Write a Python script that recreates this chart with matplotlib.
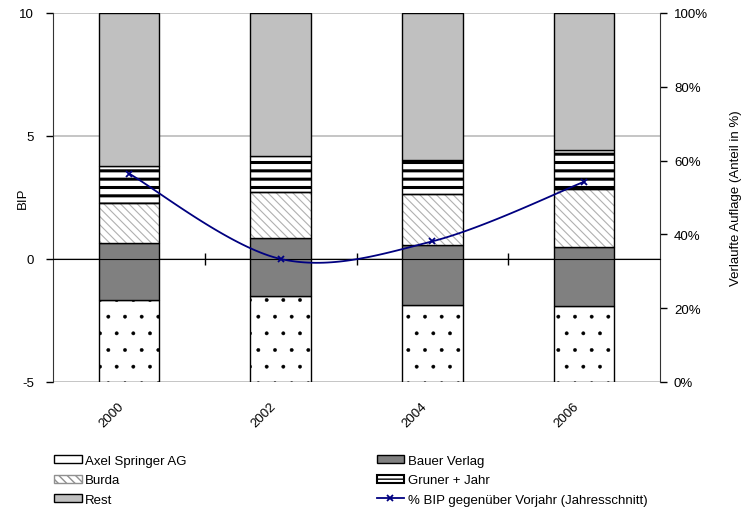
import numpy as np
import matplotlib.pyplot as plt
import matplotlib.transforms as mtransforms
from matplotlib.patches import Patch
from matplotlib.lines import Line2D
from matplotlib.ticker import PercentFormatter, FixedLocator

plt.rcParams['font.family'] = ['Liberation Sans', 'DejaVu Sans']
plt.rcParams['font.size'] = 9.5
plt.rcParams['axes.unicode_minus'] = False

# Daten
years = ['2000', '2002', '2004', '2006']
bip = [3.47, 0.0, 0.72, 3.14]             # % BIP gegenüber Vorjahr
axel_springer = [22.1, 23.3, 20.9, 20.7]  # Anteil in %
bauer_verlag = [15.5, 15.7, 16.2, 16.0]
burda = [10.8, 12.4, 13.8, 15.5]
gruner_jahr = [10.2, 9.8, 9.3, 10.6]
rest = [41.4, 38.8, 39.8, 37.2]

bip_ticks = [-5, 0, 5, 10]
navy = '#000080'


def set_hatch_lw(artists, lw):
    for a in artists:
        if hasattr(a, 'set_hatch_linewidth'):
            a.set_hatch_linewidth(lw)


def excel_smooth(xs, ys, n=40):
    # Bezier-Glättung wie in Excel (Catmull-Rom, Endpunkte doppelt)
    pts = np.column_stack([xs, ys]).astype(float)
    ext = np.vstack([pts[0], pts, pts[-1]])
    out = []
    t = np.linspace(0, 1, n)[:, None]
    for i in range(1, len(ext) - 2):
        p0, p1, p2, p3 = ext[i - 1], ext[i], ext[i + 1], ext[i + 2]
        c1 = p1 + (p2 - p0) / 6
        c2 = p2 - (p3 - p1) / 6
        seg = ((1 - t) ** 3) * p1 + 3 * ((1 - t) ** 2) * t * c1 + 3 * (1 - t) * t ** 2 * c2 + t ** 3 * p2
        out.append(seg if i == 1 else seg[1:])
    out = np.vstack(out)
    return out[:, 0], out[:, 1]


fig = plt.figure(figsize=(7.43, 5.10), dpi=100)
ax = fig.add_axes([53.3 / 743, 1 - 383 / 510, (660 - 53.3) / 743, 369 / 510])
ax_l = ax.twinx()

# Balken-Achse rechts, BIP-Achse links
ax.yaxis.tick_right()
ax.yaxis.set_label_position('right')
ax_l.yaxis.tick_left()
ax_l.yaxis.set_label_position('left')

x = np.arange(len(years))
w = 0.40

# Gitterlinien an den BIP-Teilstrichen (hinter den Balken)
lo, hi = bip_ticks[0], bip_ticks[-1]
for v in bip_ticks:
    ax.axhline((v - lo) / (hi - lo) * 100, color='#c0c0c0', lw=1.3, zorder=0)

bottom = np.zeros(len(years))
b = ax.bar(x, axel_springer, w, bottom=bottom, color='white', edgecolor='black',
           hatch='.', lw=1.0, zorder=2)
set_hatch_lw(b, 0.3)
bottom += axel_springer
ax.bar(x, bauer_verlag, w, bottom=bottom, color='#808080', edgecolor='black', lw=1.0, zorder=2)
bottom += bauer_verlag
b = ax.bar(x, burda, w, bottom=bottom, color='white', edgecolor='#b0b0b0',
           hatch=r'\\\\', lw=0, zorder=2)
set_hatch_lw(b, 0.8)
ax.bar(x, burda, w, bottom=bottom, fill=False, edgecolor='black', lw=1.0, zorder=3)
bottom += burda
b = ax.bar(x, gruner_jahr, w, bottom=bottom, color='white', edgecolor='black',
           hatch='--', lw=1.0, zorder=2)
set_hatch_lw(b, 2.2)
bottom += gruner_jahr
ax.bar(x, rest, w, bottom=bottom, color='#c0c0c0', edgecolor='black', lw=1.0, zorder=2)

# Linie
sx, sy = excel_smooth(x, bip)
ax_l.plot(sx, sy, color=navy, lw=1.3, zorder=5)
ax_l.plot(x, bip, linestyle='none', marker='x', ms=5, mew=1.3, color=navy, zorder=6)

# Achsen
ax.set_xlim(-0.5, len(years) - 0.5)
ax.set_ylim(0, 100)
ax_l.set_ylim(lo, hi)

ax.set_yticks(np.arange(0, 101, 20))
ax.yaxis.set_major_formatter(PercentFormatter(decimals=0))
ax.tick_params(axis='y', direction='out', length=5, width=1, pad=5, colors='black')
ax.set_ylabel('Verlaufte Auflage (Anteil in %)')
ax.yaxis.set_label_coords((730 - 53.3) / 606.7, 0.5)

ax_l.set_yticks(bip_ticks)
ax_l.tick_params(axis='y', direction='out', length=5, width=1, pad=9, colors='black')
ax_l.set_ylabel('BIP')
ax_l.yaxis.set_label_coords((28.5 - 53.3) / 606.7, 0.5)

ax.set_xticks(x)
ax.set_xticklabels(years, rotation=45, ha='right')
ax.xaxis.set_minor_locator(FixedLocator([0.5, 1.5, 2.5]))
ax.tick_params(axis='x', which='both', length=0, pad=13)
shift = mtransforms.ScaledTranslation(-3 / 100, 0, fig.dpi_scale_trans)
for lbl in ax.get_xticklabels():
    lbl.set_transform(lbl.get_transform() + shift)

# Kategorieachse bei BIP = 0
ax_l.xaxis.set_visible(True)
ax_l.spines['bottom'].set_position(('data', 0))
ax_l.spines['bottom'].set_color('black')
ax_l.tick_params(axis='x', which='major', length=0, labelbottom=False)
ax_l.tick_params(axis='x', which='minor', length=9, width=1, direction='inout', color='black')

for s in ['top', 'left', 'bottom']:
    ax.spines[s].set_visible(False)
ax.spines['right'].set_color('#333333')
for s in ['top', 'right']:
    ax_l.spines[s].set_visible(False)
ax_l.spines['left'].set_color('#333333')

# Legende
h_axel = Patch(facecolor='white', edgecolor='black', hatch='.', lw=1.0)
h_bauer = Patch(facecolor='#808080', edgecolor='black', lw=1.0)
h_burda = Patch(facecolor='white', edgecolor='#909090', hatch=r'\\\\', lw=1.0)
h_gruner = Patch(facecolor='white', edgecolor='black', hatch='--', lw=1.5)
h_rest = Patch(facecolor='#c0c0c0', edgecolor='black', lw=1.0)
h_line = Line2D([], [], color=navy, lw=1.3, marker='x', ms=5, mew=1.3)
set_hatch_lw([h_axel], 0.3)
set_hatch_lw([h_burda], 0.8)
set_hatch_lw([h_gruner], 2.2)

fig.legend([h_axel, h_burda, h_rest, h_bauer, h_gruner, h_line],
           ['Axel Springer AG', 'Burda', 'Rest', 'Bauer Verlag', 'Gruner + Jahr',
            '% BIP gegenüber Vorjahr (Jahresschnitt)'],
           loc='upper left', bbox_to_anchor=(54 / 743, 1 - 456 / 510), ncol=2,
           frameon=False, borderaxespad=0, borderpad=0, handlelength=2.1,
           handleheight=0.55, handletextpad=0.25, labelspacing=0.55, columnspacing=14.4)

fig.savefig('out.png', dpi=100)
